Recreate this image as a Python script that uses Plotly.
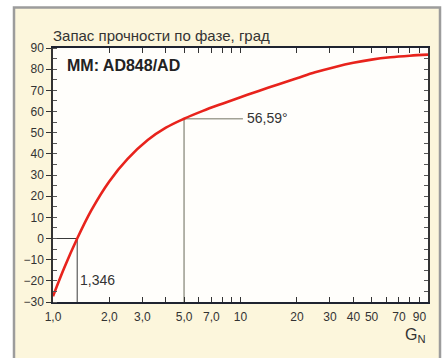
import math
import plotly.graph_objects as go

# Phase margin of the AD848 op-amp model versus noise gain G_N
G_N = [1.0, 1.15, 1.346, 1.6, 2.0, 2.5, 3.2, 4.0, 5.0, 6.3, 8.0, 10.0,
       12.5, 16.0, 20.0, 25.0, 32.0, 40.0, 50.0, 63.0, 80.0, 100.0]
PHASE_MARGIN = [-27.3, -13.7, 0.0, 13.3, 27.1, 37.6, 46.5, 52.35, 56.59, 60.3, 63.7, 66.75,
                69.7, 72.9, 75.7, 78.5, 81.05, 83.0, 84.5, 85.6, 86.35, 86.85]

X_TICK_VALS = [1, 2, 3, 5, 7, 10, 20, 30, 40, 50, 70, 90]
X_TICK_TEXT = ["1,0", "2,0", "3,0", "5,0", "7,0", "10", "20", "30", "40", "50", "70", "90"]
X_MINOR_VALS = [4, 6, 8, 9, 60, 80]
Y_TICK_VALS = [-30, -20, -10, 0, 10, 20, 30, 40, 50, 60, 70, 80, 90]

# Marked points: zero phase margin crossing and the value at G_N = 5
ZERO_G, ZERO_PM = 1.346, 0.0
MARK_G, MARK_PM = 5.0, 56.59
ZERO_LABEL = "1,346"
MARK_LABEL = "56,59°"
LEADER_END_G = 10.3

Y_MIN, Y_MAX = -30, 90

TEXT = "#333333"
FONT = "Liberation Sans, Arial, sans-serif"

fig = go.Figure()

# Guide lines for the marked points
fig.add_trace(go.Scatter(
    x=[1.0, ZERO_G, ZERO_G], y=[ZERO_PM, ZERO_PM, Y_MIN],
    mode="lines", line=dict(color="#3a3a3a", width=1), hoverinfo="skip"))
fig.add_trace(go.Scatter(
    x=[LEADER_END_G, MARK_G, MARK_G], y=[MARK_PM, MARK_PM, Y_MIN],
    mode="lines", line=dict(color="#a2a296", width=1.6), hoverinfo="skip"))

# Phase margin curve
fig.add_trace(go.Scatter(
    x=G_N, y=PHASE_MARGIN, mode="lines",
    line=dict(color="#e8231c", width=2.6, shape="spline", smoothing=1.0)))

# Helper trace carrying the right-hand tick axis
fig.add_trace(go.Scatter(x=[G_N[0]], y=[PHASE_MARGIN[0]], yaxis="y2",
                         mode="markers", marker=dict(opacity=0),
                         hoverinfo="skip"))

annotations = [
    dict(text="Запас прочности по фазе, град", xref="paper", yref="paper",
         x=0, y=1, xanchor="left", yanchor="bottom", xshift=-2, yshift=2,
         showarrow=False, font=dict(family=FONT, size=15, color=TEXT)),
    dict(text="<b>MM: AD848/AD</b>", xref="paper", yref="paper",
         x=0.031, y=0.932, xanchor="left", yanchor="middle",
         showarrow=False, font=dict(family=FONT, size=16, color="#222222")),
    dict(text=ZERO_LABEL, xref="x", yref="y",
         x=math.log10(ZERO_G), y=-19.5, xanchor="left", yanchor="middle",
         xshift=1, showarrow=False, font=dict(family=FONT, size=14, color=TEXT)),
    dict(text=MARK_LABEL, xref="x", yref="y",
         x=math.log10(LEADER_END_G), y=MARK_PM, xanchor="left", yanchor="middle",
         xshift=2, yshift=1, showarrow=False,
         font=dict(family=FONT, size=14, color=TEXT)),
    dict(text="G<sub>N</sub>", xref="paper", yref="paper",
         x=1.0, y=-0.13, xanchor="right", yanchor="middle",
         showarrow=False, font=dict(family=FONT, size=16, color=TEXT)),
]

shapes = [
    # cream panel with grey frame
    dict(type="rect", xref="paper", yref="paper",
         x0=-0.104, x1=1.032, y0=-0.35, y1=1.159,
         fillcolor="#fcf6dc", line=dict(color="#9c9c9c", width=2.5),
         layer="below"),
    # white plotting area
    dict(type="rect", xref="paper", yref="paper",
         x0=0, x1=1, y0=0, y1=1,
         fillcolor="#fffefb", line=dict(width=0), layer="below"),
]

fig.update_layout(
    width=445, height=358,
    margin=dict(l=53, r=17, t=48, b=56),
    paper_bgcolor="#ffffff",
    plot_bgcolor="#fffefb",
    showlegend=False,
    font=dict(family=FONT, size=12, color=TEXT),
    annotations=annotations,
    shapes=shapes,
    xaxis=dict(
        type="log", range=[0, 2],
        tickmode="array", tickvals=X_TICK_VALS, ticktext=X_TICK_TEXT,
        ticks="inside", ticklen=5, tickwidth=1, tickcolor="#333333",
        minor=dict(ticks="inside", ticklen=5, tickwidth=1, tickcolor="#333333",
                   tickmode="array", tickvals=X_MINOR_VALS),
        showline=True, linewidth=2, linecolor="#1e2330", mirror="ticks",
        showgrid=False, zeroline=False, ticklabelstandoff=3,
        tickfont=dict(family=FONT, size=12, color=TEXT),
    ),
    yaxis=dict(
        range=[Y_MIN, Y_MAX],
        tickmode="array", tickvals=Y_TICK_VALS,
        ticks="outside", ticklen=5, tickwidth=1, tickcolor="#333333",
        minor=dict(ticks="inside", ticklen=4, tickwidth=1, tickcolor="#555555",
                   tickmode="linear", tick0=Y_MIN, dtick=5),
        showline=True, linewidth=1.5, linecolor="#333333", mirror=True,
        showgrid=False, zeroline=False,
        tickfont=dict(family=FONT, size=12, color=TEXT),
    ),
    yaxis2=dict(
        overlaying="y", side="right", range=[Y_MIN, Y_MAX],
        tickmode="linear", tick0=Y_MIN, dtick=5,
        ticks="inside", ticklen=4, tickwidth=1, tickcolor="#555555",
        showticklabels=False, showgrid=False, zeroline=False, showline=False,
    ),
)

fig.write_html("out.html")
